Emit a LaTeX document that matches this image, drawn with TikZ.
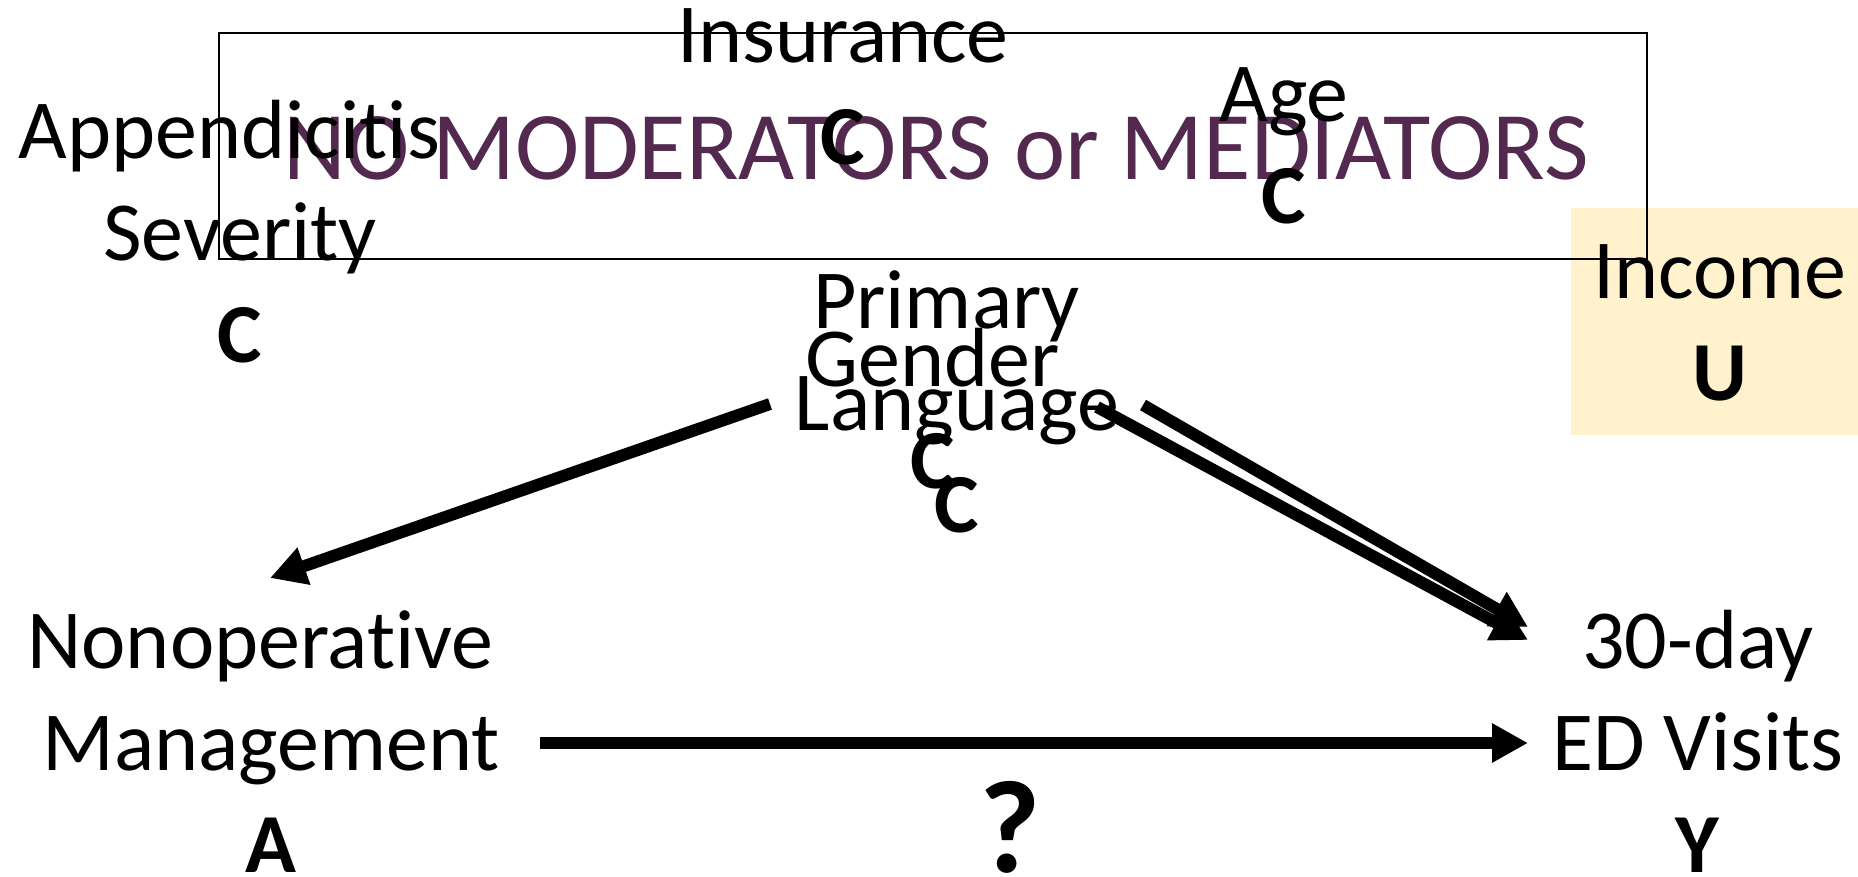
\documentclass[tikz,border=0pt]{standalone}
\usepackage{fontspec}
\setmainfont{Carlito}[Ligatures=NoCommon]
\usetikzlibrary{arrows.meta}
\definecolor{purp}{RGB}{83,41,79}
\definecolor{lyel}{RGB}{255,242,204}
\begin{document}
\begin{tikzpicture}[x=1pt,y=-1pt,
  lbl/.style={font=\fontsize{84}{102}\selectfont, align=center, anchor=base, inner sep=0pt},
  arr/.style={line width=12pt, -{Triangle[length=36pt,width=37pt]}}]
\useasboundingbox (0,0) rectangle (1858,877);
% background shapes
\fill[lyel] (1571,208) rectangle (1858,435);
\draw[line width=1.5pt] (219,33) rectangle (1647,259);
\node[anchor=base, font=\fontsize{97}{116}\selectfont, text=purp, inner sep=0pt] (title) at (936,180) {NO MODERATORS or MEDIATORS};
% variables (base anchor = baseline of the last line)
\node[lbl] (ins) at (843,165) {Insurance\\\textbf{C}};
\node[lbl] (app) at (240,362) {Appendicitis\hspace*{0.25em}\\Severity\\\textbf{C}};
\node[lbl] (age) at (1284,224) {Age\\\textbf{C}};
\node[lbl] (inc) at (1720,400) {Income\\\textbf{U}};
\node[lbl] (pl) at (957,532) {Primary\hspace*{0.25em}\\Language\\\textbf{C}};
\node[lbl] (gen) at (933,488) {Gender\\\textbf{C}};
\node[lbl] (a) at (271,872) {Nonoperative\hspace*{0.25em}\\Management\\\textbf{A}};
\node[lbl] (y) at (1698,872) {30-day\\ED Visits\hspace*{0.2em}\\\textbf{Y}};
\node[lbl, font=\fontsize{132}{150}\selectfont] (q) at (1010,872) {\textbf{?}};
% connector end points
\coordinate (pl-w) at (770,404);
\coordinate (pl-e) at (1143,405);
\coordinate (gen-e) at (1097,407);
\coordinate (a-e) at (540,743);
\coordinate (a-in) at (270,578);
\coordinate (y-in1) at (1528,627);
\coordinate (y-in2) at (1528,640);
\coordinate (y-in3) at (1528,743);
% connectors
\draw[arr] (pl-w) -- (a-in);
\draw[arr] (pl-e) -- (y-in1);
\draw[arr] (gen-e) -- (y-in2);
\draw[arr] (a-e) -- (y-in3);
\end{tikzpicture}
\end{document}
